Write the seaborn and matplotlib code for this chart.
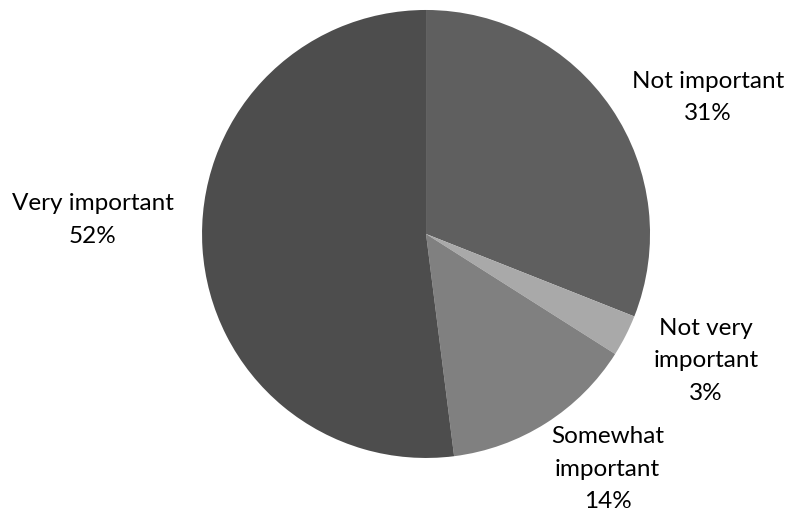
import matplotlib
matplotlib.use("Agg")
import matplotlib.pyplot as plt
import seaborn as sns

sns.set_theme(style="white")
plt.rcParams['font.family'] = ['Lato', 'DejaVu Sans']

categories = ["Not important", "Not very\nimportant", "Somewhat\nimportant", "Very important"]
shares = [31, 3, 14, 52]
colors = ["#5f5f5f", "#a9a9a9", "#808080", "#4d4d4d"]

# label centres in data units (pie radius = 1)
label_pos = [(1.26, 0.61), (1.25, -0.567), (0.81, -1.05), (-1.487, 0.063)]

fig = plt.figure(figsize=(8.03, 5.14), dpi=100)
ax = fig.add_axes([0.2516, 0.109, 0.5579, 0.8716])
ax.pie(shares, colors=colors, startangle=90, counterclock=False,
       radius=1, wedgeprops=dict(linewidth=0))
for cat, val, (x, y) in zip(categories, shares, label_pos):
    ax.text(x, y, f"{cat}\n{val}%", ha="center", va="center",
            fontsize=17.5, color="black", linespacing=1.68)
ax.set_xlim(-1, 1)
ax.set_ylim(-1, 1)
ax.set_aspect("equal")
ax.axis("off")

fig.savefig("out.png", dpi=100)
